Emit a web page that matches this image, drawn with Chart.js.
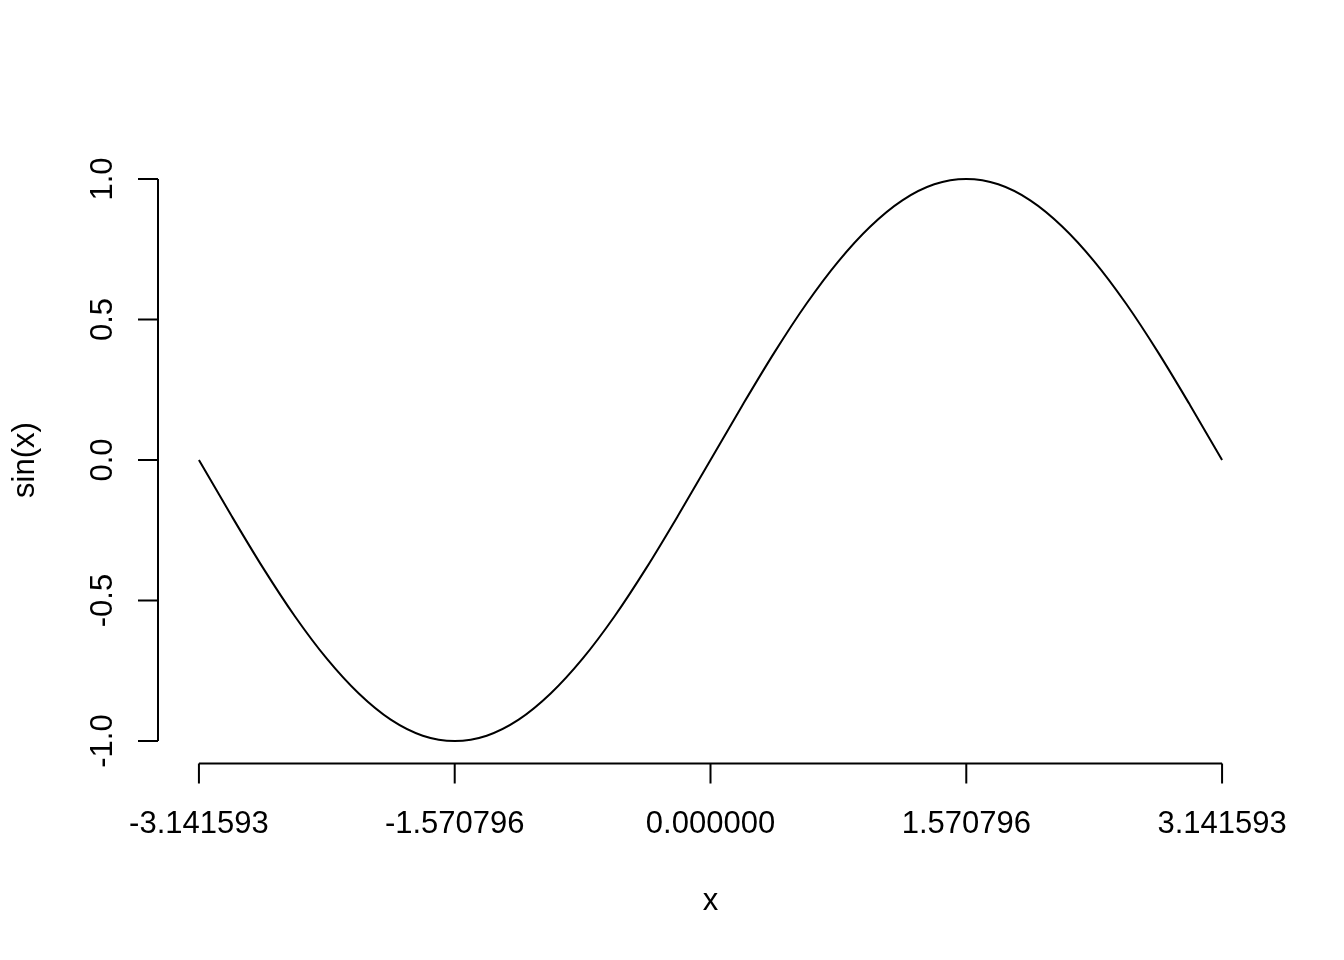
<!DOCTYPE html>
<html>
<head>
<meta charset="utf-8">
<script src="https://cdn.jsdelivr.net/npm/chart.js@4"></script>
<style>
  body { margin: 0; background: #fff; }
  canvas { display: block; }
</style>
</head>
<body>
<canvas id="sinChart" width="1344" height="960"></canvas>
<script>
// values (x in radians, step pi/16)
const xValues = [-3.1416, -2.9452, -2.7489, -2.5525, -2.3562, -2.1598, -1.9635, -1.7671, -1.5708,
  -1.3744, -1.1781, -0.9817, -0.7854, -0.5890, -0.3927, -0.1963, 0,
  0.1963, 0.3927, 0.5890, 0.7854, 0.9817, 1.1781, 1.3744, 1.5708,
  1.7671, 1.9635, 2.1598, 2.3562, 2.5525, 2.7489, 2.9452, 3.1416];
const sinValues = [0, -0.195, -0.383, -0.556, -0.707, -0.831, -0.924, -0.981, -1,
  -0.981, -0.924, -0.831, -0.707, -0.556, -0.383, -0.195, 0,
  0.195, 0.383, 0.556, 0.707, 0.831, 0.924, 0.981, 1,
  0.981, 0.924, 0.831, 0.707, 0.556, 0.383, 0.195, 0];

// axis ticks
const xTicks = [-3.141593, -1.570796, 0, 1.570796, 3.141593];
const xTickLabels = ['-3.141593', '-1.570796', '0.000000', '1.570796', '3.141593'];
const yTicks = [-1, -0.5, 0, 0.5, 1];
const yTickLabels = ['-1.0', '-0.5', '0.0', '0.5', '1.0'];

const FONT = '31px "Liberation Sans", Arial, sans-serif';

// R-style axes: separate lines that only span the tick range
const rAxes = {
  id: 'rAxes',
  afterDraw(chart) {
    const { ctx, scales: { x, y }, chartArea } = chart;
    ctx.save();
    ctx.strokeStyle = '#000';
    ctx.fillStyle = '#000';
    ctx.lineWidth = 2;
    ctx.font = FONT;

    // x axis
    const xAxisY = chartArea.bottom;
    ctx.beginPath();
    ctx.moveTo(x.getPixelForValue(xTicks[0]), xAxisY);
    ctx.lineTo(x.getPixelForValue(xTicks[xTicks.length - 1]), xAxisY);
    xTicks.forEach(t => {
      const px = x.getPixelForValue(t);
      ctx.moveTo(px, xAxisY);
      ctx.lineTo(px, xAxisY + 20);
    });
    ctx.stroke();
    ctx.textAlign = 'center';
    ctx.textBaseline = 'alphabetic';
    xTicks.forEach((t, i) => {
      ctx.fillText(xTickLabels[i], x.getPixelForValue(t), 833);
    });
    ctx.fillText('x', (x.getPixelForValue(xTicks[0]) + x.getPixelForValue(xTicks[4])) / 2, 910);

    // y axis
    const yAxisX = chartArea.left;
    ctx.beginPath();
    ctx.moveTo(yAxisX, y.getPixelForValue(yTicks[0]));
    ctx.lineTo(yAxisX, y.getPixelForValue(yTicks[yTicks.length - 1]));
    yTicks.forEach(t => {
      const py = y.getPixelForValue(t);
      ctx.moveTo(yAxisX, py);
      ctx.lineTo(yAxisX - 20, py);
    });
    ctx.stroke();
    yTicks.forEach((t, i) => {
      ctx.save();
      ctx.translate(112, y.getPixelForValue(t));
      ctx.rotate(-Math.PI / 2);
      ctx.fillText(yTickLabels[i], 0, 0);
      ctx.restore();
    });
    ctx.save();
    ctx.translate(34, (y.getPixelForValue(1) + y.getPixelForValue(-1)) / 2);
    ctx.rotate(-Math.PI / 2);
    ctx.fillText('sin(x)', 0, 0);
    ctx.restore();

    ctx.restore();
  }
};

const ctx = document.getElementById('sinChart').getContext('2d');
const sinChart = new Chart(ctx, {
  type: 'line',
  data: {
    datasets: [{
      label: 'sin(x)',
      data: xValues.map((v, i) => ({ x: v, y: sinValues[i] })),
      borderColor: '#000',
      borderWidth: 2,
      pointRadius: 0,
      cubicInterpolationMode: 'monotone',
      fill: false
    }]
  },
  options: {
    responsive: false,
    animation: false,
    layout: { padding: { left: 158, right: 81, top: 156.5, bottom: 196.5 } },
    plugins: { legend: { display: false }, tooltip: { enabled: false } },
    scales: {
      x: { type: 'linear', min: -3.141593 * 1.08, max: 3.141593 * 1.08, display: false },
      y: { type: 'linear', min: -1.08, max: 1.08, display: false }
    }
  },
  plugins: [rAxes]
});
</script>
</body>
</html>
